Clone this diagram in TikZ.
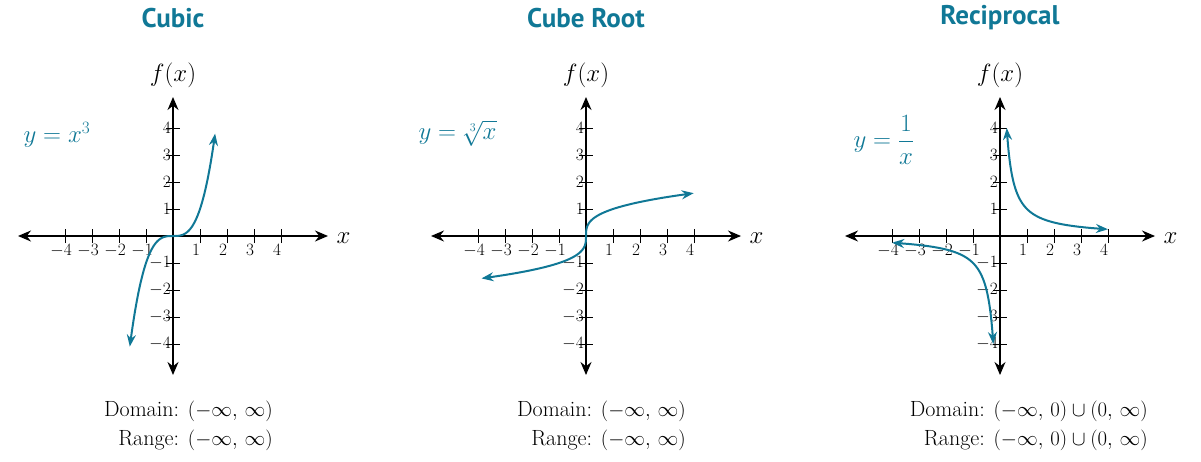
\documentclass[tikz,border=0pt]{standalone}
\usepackage{fontspec}
\setsansfont{PT Sans}
\usetikzlibrary{arrows.meta}
\definecolor{teal1}{RGB}{16,120,150}
\tikzset{
 ax/.style={line width=1.3pt,{Stealth[length=13pt,width=11pt]}-{Stealth[length=13pt,width=11pt]}},
 crv/.style={teal1,line width=2pt,{Stealth[length=12pt,width=9pt]}-{Stealth[length=12pt,width=9pt]}},
 ttl/.style={font=\sffamily\bfseries\fontsize{27}{30}\selectfont,teal1},
 tk/.style={font=\fontsize{19}{21}\selectfont,inner sep=1pt},
 lbl/.style={font=\fontsize{26}{28}\selectfont,teal1},
 dom/.style={font=\fontsize{22}{24}\selectfont,anchor=east,inner sep=0pt}
}
\newcommand{\panel}[2]{%
 \begin{scope}[shift={(#1,-236)}]
 \coordinate (#2L) at (-155,0); \coordinate (#2R) at (155,0);
 \coordinate (#2T) at (0,139); \coordinate (#2B) at (0,-139);
 \draw[ax] (#2L) -- (#2R);
 \draw[ax] (#2B) -- (#2T);
 \foreach \i in {-4,...,4}{\ifnum\i=0\else
   \draw[line width=0.9pt] (27*\i,-7) -- (27*\i,7);
   \draw[line width=0.9pt] (-7,27*\i) -- (7,27*\i);
   \node[tk,anchor=north] (#2x\i) at (27*\i-4,-7) {$\i$};
   \node[tk,anchor=east] (#2y\i) at (-1,27*\i) {$\i$};
 \fi}
 \node[font=\fontsize{26}{28}\selectfont,anchor=west] (#2xl) at (160,-2) {$x$};
 \node[font=\fontsize{26}{28}\selectfont] (#2fl) at (0,161) {$f(x)$};
 \end{scope}}
\begin{document}
\begin{tikzpicture}[x=1pt,y=1pt]
\useasboundingbox (0,0) rectangle (1201,-461);
\node[ttl] (t1) at (173,-18) {Cubic};
\node[ttl] (t2) at (586,-18) {Cube Root};
\node[ttl] (t3) at (1000,-18) {Reciprocal};
\panel{173}{a}
\panel{586}{b}
\panel{1000}{c}
\begin{scope}[shift={(173,-236)}]
 \draw[crv] plot[domain=-1.6:1.56,samples=80,smooth] ({27*\x},{27*\x*\x*\x});
\end{scope}
\begin{scope}[shift={(586,-236)}]
 \draw[crv] plot[domain=-1.57:1.587,samples=80,smooth] ({27*\x*\x*\x},{27*\x});
\end{scope}
\begin{scope}[shift={(1000,-236)}]
 \draw[crv] plot[domain=-1.386:1.386,samples=80,smooth] ({27*exp(\x)},{27*exp(-\x)});
 \draw[crv] plot[domain=-1.386:1.386,samples=80,smooth] ({-27*exp(\x)},{-27*exp(-\x)});
\end{scope}
\node[lbl,anchor=west] (e1) at (20,-135) {$y=x^3$};
\node[lbl,anchor=west] (e2) at (415,-133) {$y=\sqrt[3]{x}$};
\node[lbl,anchor=west] (e3) at (850,-140) {$y=\displaystyle\frac{1}{x}$};
\node[dom] (d1) at (273,-411) {Domain: $(-\infty,\,\infty)$};
\node[dom] (r1) at (273,-440) {Range: $(-\infty,\,\infty)$};
\node[dom] (d2) at (686,-411) {Domain: $(-\infty,\,\infty)$};
\node[dom] (r2) at (686,-440) {Range: $(-\infty,\,\infty)$};
\node[dom] (d3) at (1148,-411) {Domain: $(-\infty,\,0)\cup(0,\,\infty)$};
\node[dom] (r3) at (1148,-440) {Range: $(-\infty,\,0)\cup(0,\,\infty)$};
\end{tikzpicture}
\end{document}
